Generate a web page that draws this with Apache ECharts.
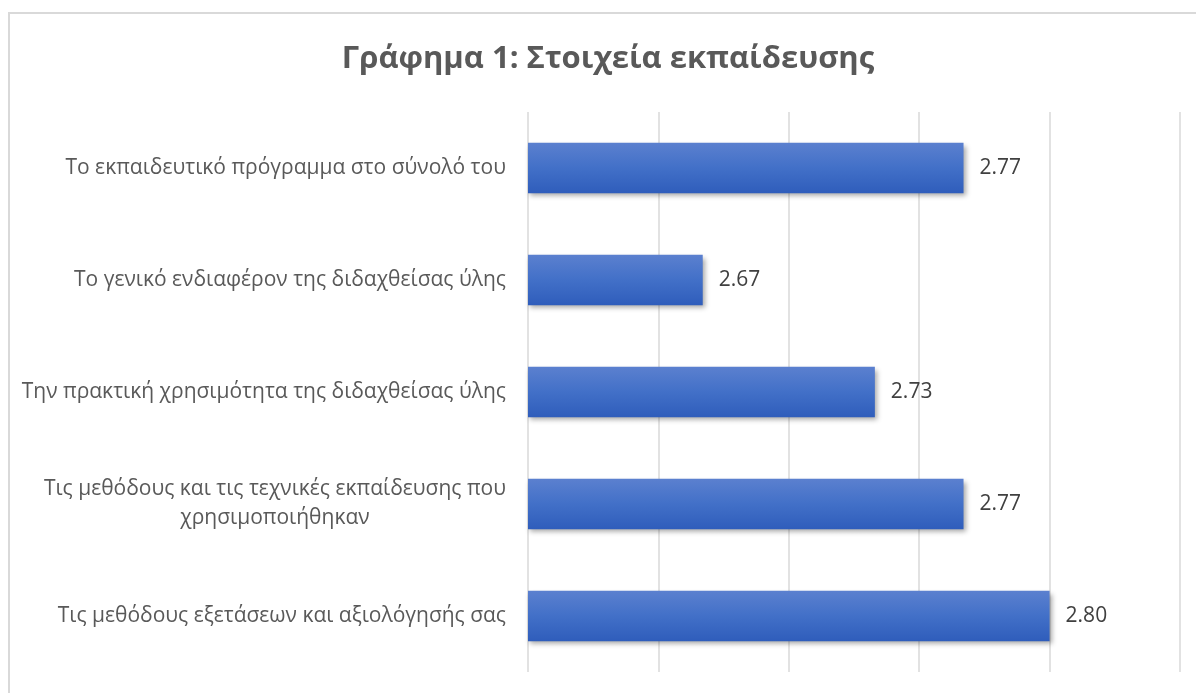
<!DOCTYPE html>
<html>
<head>
<meta charset="utf-8">
<script src="https://cdn.jsdelivr.net/npm/echarts@6/dist/echarts.min.js"></script>
<style>
  html, body { margin: 0; padding: 0; background: #fff; }
  #chart { width: 1196px; height: 693px; }
</style>
</head>
<body>
<div id="chart"></div>
<script>
// chart data
const categories = [
  'Το εκπαιδευτικό πρόγραμμα στο σύνολό του',
  'Το γενικό ενδιαφέρον της διδαχθείσας ύλης',
  'Την πρακτική χρησιμότητα της διδαχθείσας ύλης',
  'Τις μεθόδους και τις τεχνικές εκπαίδευσης που\nχρησιμοποιήθηκαν',
  'Τις μεθόδους εξετάσεων και αξιολόγησής σας'
]
const values = [2.767, 2.667, 2.733, 2.767, 2.8]
const axisMin = 2.6
const axisMax = 2.85
const axisStep = 0.05

const chart = echarts.init(document.getElementById('chart'))

const option = {
  backgroundColor: '#fff',
  textStyle: { fontFamily: 'Open Sans' },
  title: {
    text: 'Γράφημα 1: Στοιχεία εκπαίδευσης',
    left: 603,
    textAlign: 'center',
    top: 39,
    textStyle: { fontSize: 31, fontWeight: 'bold', color: '#595959', fontFamily: 'Open Sans' }
  },
  graphic: [{
    type: 'rect',
    shape: { x: 9, y: 13, width: 1200, height: 700 },
    style: { fill: 'none', stroke: '#d9d9d9', lineWidth: 2 },
    silent: true
  }],
  grid: { left: 528, right: 16, top: 112, bottom: 21, containLabel: false },
  xAxis: {
    type: 'value',
    min: axisMin,
    max: axisMax,
    interval: axisStep,
    axisLine: { show: false },
    axisTick: { show: false },
    axisLabel: { show: false },
    splitLine: { lineStyle: { color: '#d9d9d9', width: 1.5 } }
  },
  yAxis: {
    type: 'category',
    data: categories,
    inverse: true,
    axisLine: { show: false },
    axisTick: { show: false },
    axisLabel: {
      margin: 22,
      color: '#595959',
      fontSize: 21,
      fontFamily: 'Open Sans',
      formatter: (v) => v.split('\n').map(s => '{a|' + s + '}').join('\n'),
      rich: {
        a: { align: 'center', color: '#595959', fontSize: 21, fontFamily: 'Open Sans', lineHeight: 29 }
      }
    }
  },
  series: [{
    type: 'bar',
    data: values,
    barCategoryGap: '55%',
    itemStyle: {
      color: new echarts.graphic.LinearGradient(0, 0, 0, 1, [
        { offset: 0, color: '#5b80cf' },
        { offset: 0.5, color: '#4270c8' },
        { offset: 1, color: '#2f5dbb' }
      ]),
      shadowColor: 'rgba(0,0,0,0.35)',
      shadowBlur: 5,
      shadowOffsetX: 2,
      shadowOffsetY: 3
    },
    label: {
      show: true,
      position: 'right',
      distance: 16,
      color: '#404040',
      fontSize: 21,
      fontFamily: 'Open Sans',
      formatter: (p) => p.value.toFixed(2)
    }
  }]
}

chart.setOption(option)
</script>
</body>
</html>
